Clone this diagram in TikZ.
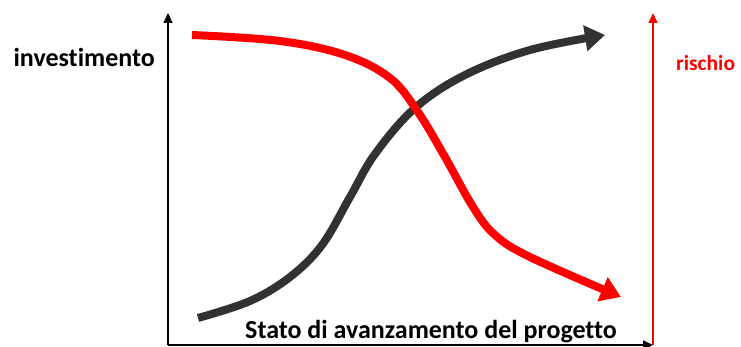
\documentclass[tikz,border=0pt]{standalone}
\usepackage{fontspec}
\setmainfont[Ligatures={NoCommon}]{Carlito}
\usetikzlibrary{arrows.meta}
\definecolor{curvegray}{RGB}{50,50,50}
\definecolor{riskred}{RGB}{255,0,0}
\begin{document}
\begin{tikzpicture}[x=1pt,y=-1pt,
  axis/.style={line width=1.6pt,-{Triangle[length=10pt,width=9pt]}},
  curve/.style={line width=8pt,-{Triangle[length=20pt,width=25pt]}},
  lbl/.style={font=\fontsize{26}{30}\selectfont\bfseries,inner sep=0pt}]
\useasboundingbox (0,0) rectangle (741,347);
\coordinate (O) at (168,345);
\coordinate (Ytop) at (168,13);
\coordinate (Xend) at (653,345);
\coordinate (R0) at (653,345);
\coordinate (Rtop) at (653,13);
\draw[axis,black] (O) -- (Ytop);
\draw[axis,black] (O) -- (Xend);
\draw[axis,riskred] (R0) -- (Rtop);
\node[lbl,anchor=east] (inv) at (155,57) {investimento};
\node[lbl,anchor=west,text=riskred,font=\fontsize{21.5}{25}\selectfont\bfseries] (ris) at (676,63) {rischio};
\node[lbl,anchor=base west] (stato) at (245,338) {Stato di avanzamento del progetto};
\draw[curve,curvegray] plot[smooth,tension=0.6] coordinates
  {(198,318) (250,301) (290,277) (322,245) (350,197) (375,154) (415,108) (465,75) (530,50) (605,35)};
\draw[curve,riskred] plot[smooth,tension=0.6] coordinates
  {(192,35) (280,41) (345,55) (390,78) (418,112) (445,157) (473,207) (495,235) (530,257) (621,297)};
\end{tikzpicture}
\end{document}
